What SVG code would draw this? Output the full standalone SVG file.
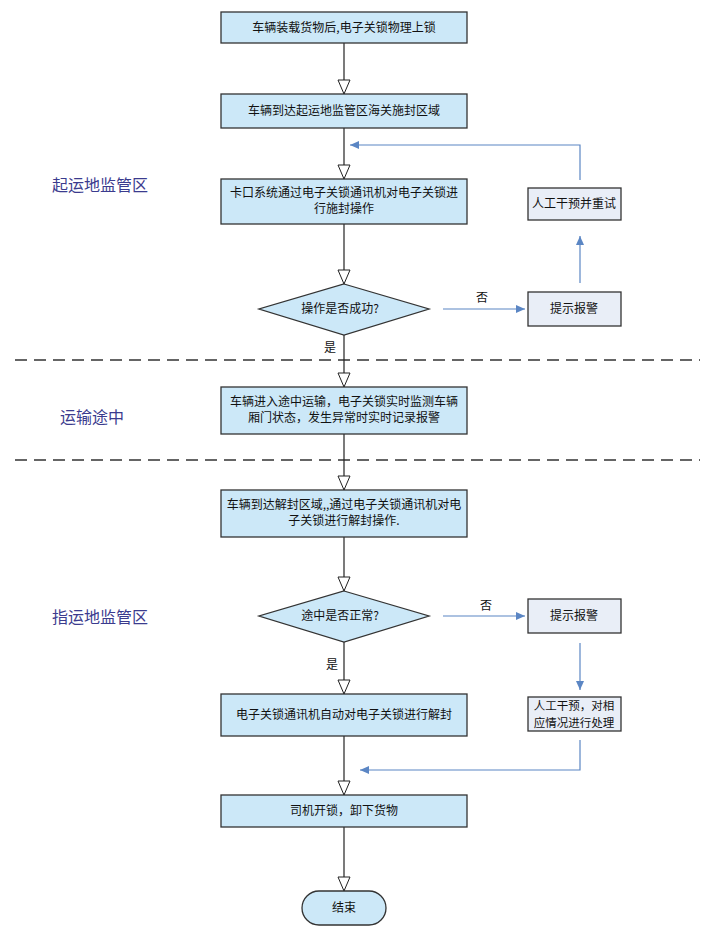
<svg xmlns="http://www.w3.org/2000/svg" width="716" height="936" viewBox="0 0 716 936">
<style>
.b{fill:#cce8f8;stroke:#333;stroke-width:1.3}
.g{fill:#e9eef7;stroke:#333;stroke-width:1.3}
text{font-family:"Noto Sans CJK SC","Liberation Sans",sans-serif;font-size:12px;fill:#111;text-anchor:middle}
.s{font-size:16px;fill:#3b3b8e;text-anchor:start}
.t{font-size:11.5px}
.k{stroke:#222;stroke-width:1.2;fill:none}
.u{stroke:#5b86c4;stroke-width:1.2;fill:none}
.d{stroke:#333;stroke-width:1.5;stroke-dasharray:12,7}
</style>
<defs>
<marker id="h" markerWidth="16" markerHeight="14" refX="15" refY="7" orient="auto" markerUnits="userSpaceOnUse"><path d="M1,1 L15,7 L1,13 Z" fill="#fff" stroke="#222"/></marker>
<marker id="a" markerWidth="10" markerHeight="8" refX="9" refY="4" orient="auto" markerUnits="userSpaceOnUse"><path d="M0,0 L9,4 L0,8 Z" fill="#5b86c4"/></marker>
</defs>
<g id="labels">
<text class="s" x="52" y="191">起运地监管区</text>
<text class="s" x="60" y="423">运输途中</text>
<text class="s" x="52" y="623">指运地监管区</text>
</g>
<g id="dividers"><line class="d" x1="15" y1="360" x2="700" y2="360"/><line class="d" x1="15" y1="460" x2="700" y2="460"/></g>
<g id="connectors">
<path class="k" d="M344,43 V94" marker-end="url(#h)"/>
<path class="k" d="M344,128 V179" marker-end="url(#h)"/>
<path class="k" d="M344,224 V284" marker-end="url(#h)"/>
<path class="k" d="M344,335 V387" marker-end="url(#h)"/>
<path class="k" d="M344,434 V490" marker-end="url(#h)"/>
<path class="k" d="M344,537 V591" marker-end="url(#h)"/>
<path class="k" d="M344,642 V694" marker-end="url(#h)"/>
<path class="k" d="M344,736 V795" marker-end="url(#h)"/>
<path class="k" d="M344,827 V891" marker-end="url(#h)"/>
<path class="u" d="M443,309 H525" marker-end="url(#a)"/>
<path class="u" d="M580,283 V236" marker-end="url(#a)"/>
<path class="u" d="M580,180 V145 H350" marker-end="url(#a)"/>
<path class="u" d="M443,616 H525" marker-end="url(#a)"/>
<path class="u" d="M580,643 V690" marker-end="url(#a)"/>
<path class="u" d="M580,740 V770 H360" marker-end="url(#a)"/>
<text x="482" y="302">否</text><text x="330" y="352">是</text>
<text x="486" y="610">否</text><text x="332" y="669">是</text>
</g>
<g id="n1"><rect class="b" x="221" y="12" width="246" height="31"/><text x="344" y="32">车辆装载货物后,电子关锁物理上锁</text></g>
<g id="n2"><rect class="b" x="221" y="94" width="246" height="34"/><text x="344" y="115">车辆到达起运地监管区海关施封区域</text></g>
<g id="n3"><rect class="b" x="221" y="179" width="246" height="45"/><text x="344" y="197">卡口系统通过电子关锁通讯机对电子关锁进</text><text x="344" y="213">行施封操作</text></g>
<g id="n4"><path class="b" d="M344,284 L429,309 L344,335 L259,309 Z"/><text x="340" y="313">操作是否成功?</text></g>
<g id="n5"><rect class="g" x="528" y="292" width="93" height="34"/><text x="574" y="313">提示报警</text></g>
<g id="n6"><rect class="g" x="528" y="188" width="93" height="32"/><text x="574" y="208">人工干预并重试</text></g>
<g id="n7"><rect class="b" x="221" y="387" width="246" height="47"/><text x="344" y="406">车辆进入途中运输，电子关锁实时监测车辆</text><text x="344" y="422">厢门状态，发生异常时实时记录报警</text></g>
<g id="n8"><rect class="b" x="221" y="490" width="246" height="47"/><text x="344" y="509">车辆到达解封区域,,通过电子关锁通讯机对电</text><text x="344" y="525">子关锁进行解封操作.</text></g>
<g id="n9"><path class="b" d="M344,591 L429,616 L344,642 L259,616 Z"/><text x="340" y="620">途中是否正常?</text></g>
<g id="n10"><rect class="g" x="528" y="599" width="93" height="34"/><text x="574" y="620">提示报警</text></g>
<g id="n11"><rect class="g" x="528" y="697" width="93" height="34"/><text class="t" x="574" y="710">人工干预，对相</text><text class="t" x="574" y="727">应情况进行处理</text></g>
<g id="n12"><rect class="b" x="221" y="694" width="246" height="42"/><text x="344" y="719">电子关锁通讯机自动对电子关锁进行解封</text></g>
<g id="n13"><rect class="b" x="221" y="795" width="246" height="32"/><text x="344" y="815">司机开锁，卸下货物</text></g>
<g id="n14"><rect class="b" x="302" y="891" width="84" height="34" rx="17"/><text x="344" y="912">结束</text></g>
</svg>
